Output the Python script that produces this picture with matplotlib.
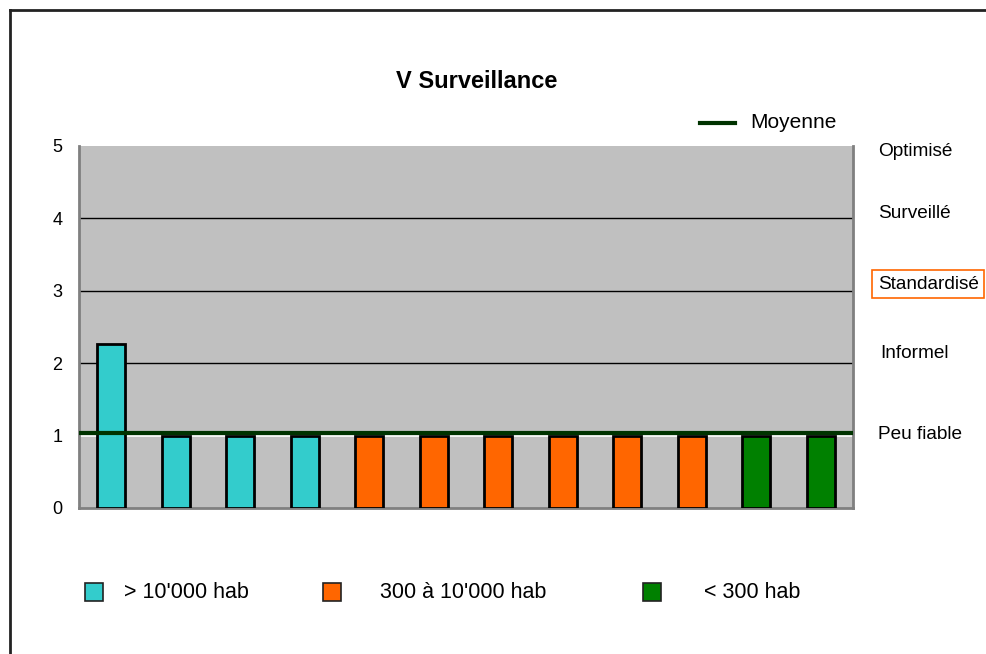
import matplotlib
matplotlib.use("Agg")
import matplotlib.pyplot as plt
from matplotlib.patches import Rectangle
from matplotlib.lines import Line2D
import matplotlib.transforms as mtransforms

plt.rcParams['font.family'] = ['Liberation Sans', 'DejaVu Sans']

# Data
scores = [2.27, 1, 1, 1, 1, 1, 1, 1, 1, 1, 1, 1]
groups = [0, 0, 0, 0, 1, 1, 1, 1, 1, 1, 2, 2]
group_labels = ["> 10'000 hab", "300 à 10'000 hab", "< 300 hab"]
group_colors = ["#33CCCC", "#FF6600", "#008000"]
moyenne = 1.04
level_names = ["Optimisé", "Surveillé", "Standardisé", "Informel", "Peu fiable"]
level_pos = [4.93, 4.07, 3.09, 2.13, 1.02]
yticks = [0, 1, 2, 3, 4, 5]

W, H = 986, 654
fig = plt.figure(figsize=(W / 100, H / 100), dpi=100)
fig.patch.set_facecolor("white")

def fx(px):
    return px / W

def fy(py):
    return 1 - py / H

ax = fig.add_axes([fx(79), fy(508), fx(853) - fx(79), fy(146) - fy(508)])
ax.set_facecolor("#C0C0C0")
x = list(range(len(scores)))
colors = [group_colors[g] for g in groups]
ax.bar(x, scores, width=0.43, color=colors, edgecolor="black", linewidth=2, zorder=3)
ax.set_xlim(-0.5, len(scores) - 0.5)
ax.set_ylim(0, 5)

# Horizontal grid
for v in [2, 3, 4]:
    ax.axhline(v, color="black", linewidth=1, zorder=1)
ax.axhline(1.0, color="white", linewidth=1.2, zorder=1)
ax.axhline(moyenne, color="#003300", linewidth=3, zorder=4)

ax.set_xticks([])
ax.set_yticks(yticks)
ax.set_yticklabels([str(v) for v in yticks], fontsize=13)
ax.tick_params(axis="y", length=0, pad=12)
for s in ax.spines.values():
    s.set_color("#808080")
    s.set_linewidth(2)
ax.spines["top"].set_visible(False)

# Level names on the right
trans = mtransforms.blended_transform_factory(ax.transAxes, ax.transData)
for name, pos in zip(level_names, level_pos):
    kw = {}
    xoff = 1.032
    if name == "Standardisé":
        kw["bbox"] = dict(boxstyle="square,pad=0.3", facecolor="white",
                          edgecolor="#FF6600", linewidth=1.2)
    if name == "Informel":
        xoff = 1.035
    ax.text(xoff, pos, name, transform=trans, fontsize=13.7,
            va="center", ha="left", clip_on=False, **kw)

# Title
fig.text(fx(477), fy(81), "V Surveillance", fontsize=17, fontweight="bold",
         ha="center", va="center")

# Mean legend
fig.add_artist(Line2D([fx(700), fx(735)], [fy(123), fy(123)],
                      color="#003300", linewidth=3))
fig.text(fx(750), fy(123), "Moyenne", fontsize=15, ha="left", va="center")

# Group legend
sq_x = [85, 323, 643]
txt_x = [124, 380, 704]
for lbl, col, sx, tx in zip(group_labels, group_colors, sq_x, txt_x):
    fig.add_artist(Rectangle((fx(sx), fy(601)), fx(18), 18 / H,
                             facecolor=col, edgecolor="#222222", linewidth=1.2,
                             transform=fig.transFigure))
    fig.text(fx(tx), fy(592), lbl, fontsize=15.5, ha="left", va="center")

# Outer frame
fig.add_artist(Line2D([fx(10), fx(10)], [fy(10), 0], color="#222222", linewidth=2))
fig.add_artist(Line2D([fx(10), 1], [fy(10), fy(10)], color="#222222", linewidth=2))

fig.savefig("out.png", dpi=100)
